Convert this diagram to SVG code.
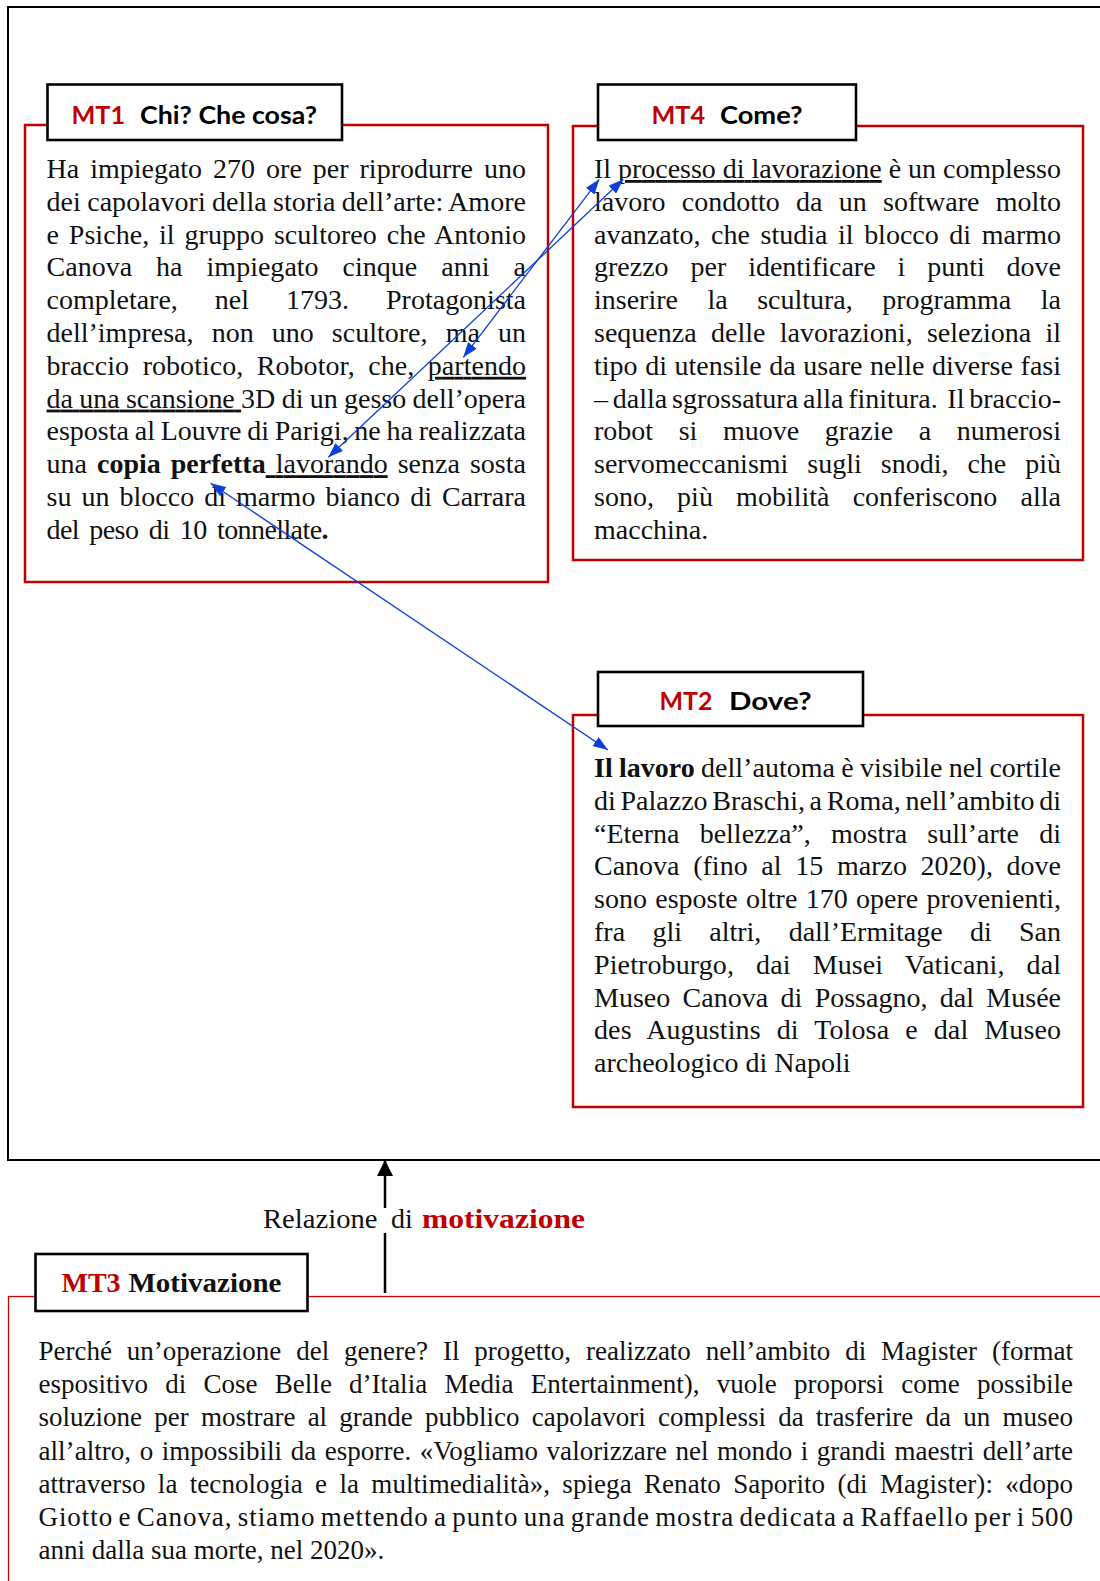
<svg xmlns="http://www.w3.org/2000/svg" width="1100" height="1581" viewBox="0 0 1100 1581">
<style>
.frame{fill:none;stroke:#000;stroke-width:2}
.redbox{fill:#fff;stroke:#c00000;stroke-width:2.5}
.lblbox{fill:#fff;stroke:#000;stroke-width:2.6}
.lbl{font-family:Lato,"Liberation Sans",sans-serif;font-weight:bold;font-size:25px;fill:#000}
.body{font-family:"Liberation Serif","Times New Roman",serif;font-size:28px;fill:#111}
.b3{font-family:"Liberation Serif","Times New Roman",serif;font-size:27px;fill:#111}
.bold{font-weight:bold}
.u{text-decoration:underline}
.red{fill:#c00000}
.blue{fill:none;stroke:#0d3fd9;stroke-width:1.3}
.blk{fill:none;stroke:#000;stroke-width:2.5}
</style>
<defs>
<marker id="bh" markerUnits="userSpaceOnUse" markerWidth="15" markerHeight="11" refX="15" refY="5.5" orient="auto-start-reverse">
<path d="M0,0 L15,5.5 L0,11 z" fill="#0d3fd9"/>
</marker>
<marker id="kh" markerUnits="userSpaceOnUse" markerWidth="16" markerHeight="16" refX="16" refY="8" orient="auto">
<path d="M0,0 L16,8 L0,16 z" fill="#000"/>
</marker>
</defs>
<rect width="1100" height="1581" fill="#fff"/>
<rect class="frame" x="8" y="7" width="1110" height="1153"/>

<g id="node-mt1">
<rect class="redbox" x="25" y="125" width="523" height="457"/>
<rect class="lblbox" x="47.5" y="84.5" width="294.5" height="55.5"/>
<text class="lbl red" x="71.5" y="124" textLength="53.5" lengthAdjust="spacingAndGlyphs">MT1</text>
<text class="lbl" x="140" y="124" textLength="177" lengthAdjust="spacingAndGlyphs">Chi? Che cosa?</text>
<text class="body" x="46.5" y="178" textLength="479.5" style="word-spacing:4px">Ha impiegato 270 ore per riprodurre uno</text>
<text class="body" x="46.5" y="210.8" textLength="479.5" style="word-spacing:-0.7px">dei capolavori della storia dell’arte: Amore</text>
<text class="body" x="46.5" y="243.6" textLength="479.5" style="word-spacing:2.8px">e Psiche, il gruppo scultoreo che Antonio</text>
<text class="body" x="46.5" y="276.4" textLength="479.5" style="word-spacing:17px">Canova ha impiegato cinque anni a</text>
<text class="body" x="46.5" y="309.2" textLength="479.5" style="word-spacing:30px">completare, nel 1793. Protagonista</text>
<text class="body" x="46.5" y="342" textLength="479.5" style="word-spacing:11.1px">dell’impresa, non uno scultore, ma un</text>
<text class="body" x="46.5" y="374.8" textLength="479.5" style="word-spacing:6.5px">braccio robotico, Robotor, che, <tspan class="u">partendo</tspan></text>
<text class="body" x="46.5" y="407.6" textLength="479.5" style="word-spacing:-0.7px"><tspan class="u">da una scansione </tspan>3D di un gesso dell’opera</text>
<text class="body" x="46.5" y="440.4" textLength="479.5" style="word-spacing:-1.3px">esposta al Louvre di Parigi, ne ha realizzata</text>
<text class="body" x="46.5" y="473.2" textLength="479.5" style="word-spacing:3px">una <tspan class="bold">copia perfetta</tspan><tspan class="u"> lavorando</tspan> senza sosta</text>
<text class="body" x="46.5" y="506" textLength="479.5" style="word-spacing:3px">su un blocco di marmo bianco di Carrara</text>
<text class="body" x="46.5" y="538.8" textLength="282" style="word-spacing:4px">del peso di 10 tonnellate<tspan class="bold">.</tspan></text>
</g>

<g id="node-mt4">
<rect class="redbox" x="573" y="126" width="510" height="434"/>
<rect class="lblbox" x="598" y="84.5" width="258" height="55.5"/>
<text class="lbl red" x="651.5" y="123.5" textLength="53.5" lengthAdjust="spacingAndGlyphs">MT4</text>
<text class="lbl" x="720" y="123.5" textLength="82.5" lengthAdjust="spacingAndGlyphs">Come?</text>
<text class="body" x="594" y="178" textLength="467">Il <tspan class="u">processo di lavorazione</tspan> è un complesso</text>
<text class="body" x="594" y="210.8" textLength="467" style="word-spacing:9.3px">lavoro condotto da un software molto</text>
<text class="body" x="594" y="243.6" textLength="467" style="word-spacing:3.6px">avanzato, che studia il blocco di marmo</text>
<text class="body" x="594" y="276.4" textLength="467" style="word-spacing:14.9px">grezzo per identificare i punti dove</text>
<text class="body" x="594" y="309.2" textLength="467" style="word-spacing:22.5px">inserire la scultura, programma la</text>
<text class="body" x="594" y="342" textLength="467" style="word-spacing:7.3px">sequenza delle lavorazioni, seleziona il</text>
<text class="body" x="594" y="374.8" textLength="467" style="word-spacing:0.6px">tipo di utensile da usare nelle diverse fasi</text>
<text class="body" x="594" y="407.6" textLength="467" style="word-spacing:-2.2px">– dalla sgrossatura alla finitura.&#160; Il braccio-</text>
<text class="body" x="594" y="440.4" textLength="467" style="word-spacing:18.6px">robot si muove grazie a numerosi</text>
<text class="body" x="594" y="473.2" textLength="467" style="word-spacing:12px">servomeccanismi sugli snodi, che più</text>
<text class="body" x="594" y="506" textLength="467" style="word-spacing:16.2px">sono, più mobilità conferiscono alla</text>
<text class="body" x="594" y="538.8">macchina.</text>
</g>

<g id="node-mt2">
<rect class="redbox" x="573" y="715" width="510" height="392"/>
<rect class="lblbox" x="598" y="672" width="265" height="54"/>
<text class="lbl red" x="659.5" y="710" textLength="53" lengthAdjust="spacingAndGlyphs">MT2</text>
<text class="lbl" x="729" y="710" textLength="82.5" lengthAdjust="spacingAndGlyphs">Dove?</text>
<text class="body" x="594" y="777" textLength="467" style="word-spacing:-0.7px"><tspan class="bold">Il lavoro</tspan> dell’automa è visibile nel cortile</text>
<text class="body" x="594" y="809.8" textLength="467" style="word-spacing:-2.3px">di Palazzo Braschi, a Roma, nell’ambito di</text>
<text class="body" x="594" y="842.6" textLength="467" style="word-spacing:13.2px">“Eterna bellezza”, mostra sull’arte di</text>
<text class="body" x="594" y="875.4" textLength="467" style="word-spacing:6.7px">Canova (fino al 15 marzo 2020), dove</text>
<text class="body" x="594" y="908.2" textLength="467" style="word-spacing:1.3px">sono esposte oltre 170 opere provenienti,</text>
<text class="body" x="594" y="941" textLength="467" style="word-spacing:20.3px">fra gli altri, dall’Ermitage di San</text>
<text class="body" x="594" y="973.8" textLength="467" style="word-spacing:14.9px">Pietroburgo, dai Musei Vaticani, dal</text>
<text class="body" x="594" y="1006.6" textLength="467" style="word-spacing:5.4px">Museo Canova di Possagno, dal Musée</text>
<text class="body" x="594" y="1039.4" textLength="467" style="word-spacing:8.9px">des Augustins di Tolosa e dal Museo</text>
<text class="body" x="594" y="1072.2">archeologico di Napoli</text>
</g>

<g id="node-mt3">
<rect x="8.5" y="1296.5" width="1110" height="300" fill="#fff" stroke="#c00000" stroke-width="1.3"/>
<rect class="lblbox" x="35.5" y="1254" width="272" height="57"/>
<text class="body bold red" x="61.5" y="1292">MT3</text>
<text class="body bold" x="128.5" y="1292" textLength="153" lengthAdjust="spacingAndGlyphs">Motivazione</text>
<text class="b3" x="38.5" y="1360" textLength="1034.5" style="word-spacing:8.15px">Perché un’operazione del genere? Il progetto, realizzato nell’ambito di Magister (format</text>
<text class="b3" x="38.5" y="1393.2" textLength="1034.5" style="word-spacing:10.5px">espositivo di Cose Belle d’Italia Media Entertainment), vuole proporsi come possibile</text>
<text class="b3" x="38.5" y="1426.3" textLength="1034.5" style="word-spacing:5.5px">soluzione per mostrare al grande pubblico capolavori complessi da trasferire da un museo</text>
<text class="b3" x="38.5" y="1459.5" textLength="1034.5" style="word-spacing:1.7px">all’altro, o impossibili da esporre. «Vogliamo valorizzare nel mondo i grandi maestri dell’arte</text>
<text class="b3" x="38.5" y="1492.6" textLength="1034.5" style="word-spacing:5.5px">attraverso la tecnologia e la multimedialità», spiega Renato Saporito (di Magister): «dopo</text>
<text class="b3" x="38.5" y="1525.8" textLength="1034.5" style="word-spacing:-2.3px">Giotto e Canova, stiamo mettendo a punto una grande mostra dedicata a Raffaello per i 500</text>
<text class="b3" x="38.5" y="1558.9">anni dalla sua morte, nel 2020».</text>
</g>

<g id="connectors">
<line class="blue" x1="599.3" y1="179.3" x2="463.3" y2="357.3" marker-start="url(#bh)" marker-end="url(#bh)"/>
<line class="blue" x1="623.3" y1="179.3" x2="328.3" y2="457.3" marker-start="url(#bh)" marker-end="url(#bh)"/>
<line class="blue" x1="210.7" y1="483.3" x2="608" y2="750" marker-start="url(#bh)" marker-end="url(#bh)"/>
<line class="blk" x1="385" y1="1293" x2="385" y2="1233"/>
<line class="blk" x1="385" y1="1208" x2="385" y2="1160" marker-end="url(#kh)"/>
</g>

<g id="label-relazione">
<text class="body" x="263" y="1228" textLength="114.5" lengthAdjust="spacingAndGlyphs">Relazione</text>
<text class="body" x="391" y="1228">di</text>
<text class="body bold red" x="422" y="1228" textLength="163" lengthAdjust="spacingAndGlyphs">motivazione</text>
</g>
</svg>
